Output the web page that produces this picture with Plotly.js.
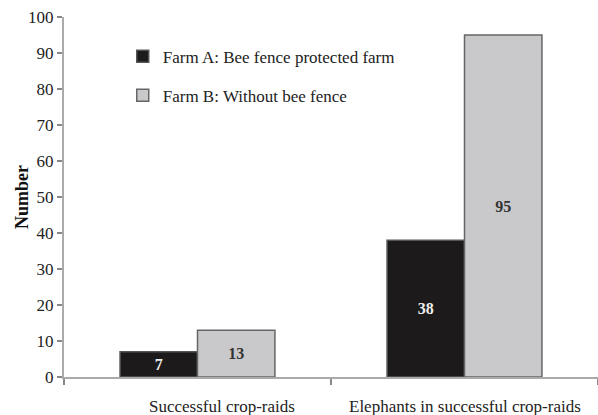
<!DOCTYPE html>
<html><head><meta charset="utf-8">
<script src="https://cdn.plot.ly/plotly-3.0.1.min.js"></script>
<style>body{margin:0;background:#fff}#c{width:598px;height:415px}</style>
</head><body><div id="c"></div>
<script>
const categories = ["Successful crop-raids", "Elephants in successful crop-raids"];
const farmA = [7, 38];
const farmB = [13, 95];
const seriesNames = ["Farm A: Bee fence protected farm", "Farm B: Without bee fence"];
const yTicks = [0,10,20,30,40,50,60,70,80,90,100];
const yTitle = "Number";

const serif = "Liberation Serif";
const traces = [
  {type:"bar", x:categories, y:farmA, name:seriesNames[0], legendgroup:"a",
   marker:{color:"#1c1a1b", line:{color:"#555", width:1.5}},
   text:farmA.map(String), textposition:"inside", insidetextanchor:"middle",
   textfont:{family:serif, size:16, color:"#eee", weight:"bold"}, hoverinfo:"none"},
  {type:"bar", x:categories, y:farmB, name:seriesNames[1], legendgroup:"b",
   marker:{color:"#c9c9cb", line:{color:"#666", width:1.5}},
   text:farmB.map(String), textposition:"inside", insidetextanchor:"middle",
   textfont:{family:serif, size:16, color:"#333", weight:"bold"}, hoverinfo:"none"}
];
const labelShift = [24, 0];
const annotations = categories.map((c, i) => ({
  x: c, xref:"x", y: 0, yref:"paper", yanchor:"top", yshift:-18, xshift: labelShift[i],
  text: c, showarrow:false, font:{family:serif, size:17, color:"#222"}
}));
annotations.push({x:0, xref:"paper", y:0.5, yref:"paper", xanchor:"center", yanchor:"middle",
  xshift:-42, textangle:-90, text:yTitle, showarrow:false,
  font:{family:serif, size:18, color:"#111", weight:"bold"}});
const layout = {
  width:598, height:415,
  margin:{l:64, r:0, t:17, b:38},
  paper_bgcolor:"#fff", plot_bgcolor:"#fff",
  font:{family:serif, size:17, color:"#222"},
  bargap:0.42, bargroupgap:0,
  showlegend:true,
  legend:{x:0.11, y:0.94, xanchor:"left", yanchor:"top", bgcolor:"rgba(0,0,0,0)",
    font:{family:serif, size:17, color:"#222"}, tracegroupgap:14, itemwidth:30},
  annotations: annotations,
  xaxis:{range:[-0.5,1.5], showline:true, linecolor:"#aaa", linewidth:2,
    ticks:"outside", tickson:"boundaries", ticklen:6, tickcolor:"#888", tickwidth:1.5,
    showticklabels:false, showgrid:false, zeroline:false},
  yaxis:{range:[0,100], tickvals:yTicks, showline:true, linecolor:"#aaa", linewidth:2,
    ticks:"outside", ticklen:5, tickcolor:"#888", tickwidth:1.5, showgrid:false, zeroline:false,
    tickfont:{family:serif, size:17, color:"#222"}}
};
Plotly.newPlot("c", traces, layout, {staticPlot:true});
</script></body></html>
